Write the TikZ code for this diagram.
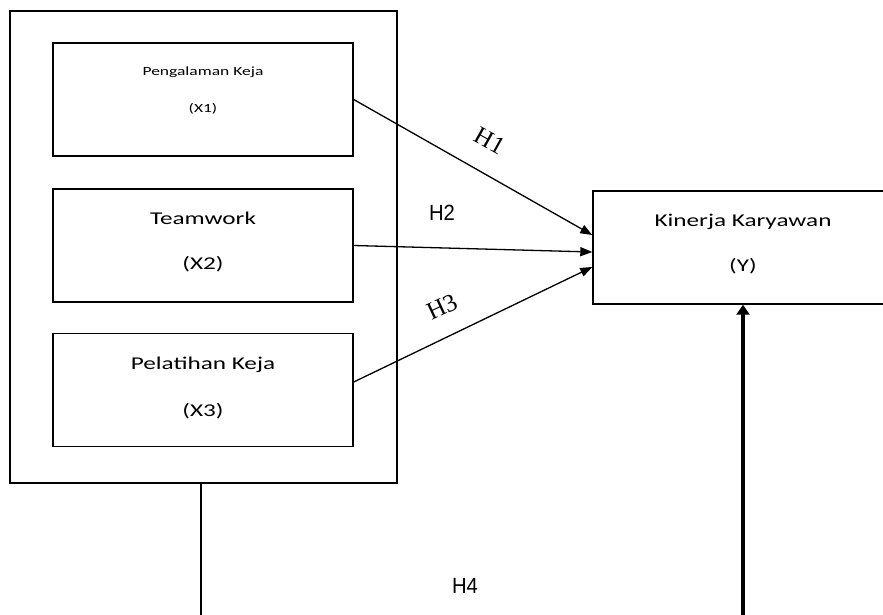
\documentclass[tikz,border=0pt]{standalone}
\usepackage{fontspec}
\setmainfont{Liberation Sans}
\newfontfamily\boxfont[FakeStretch=1.4]{Carlito}
\newfontfamily\hserif{Liberation Serif}
\usetikzlibrary{arrows.meta,calc}
\begin{document}
\begin{tikzpicture}[x=1pt,y=-1pt,
  box/.style={draw,line width=1.4pt,minimum width=300pt,minimum height=113pt,inner sep=0pt},
  big/.style={font=\boxfont\fontsize{18}{18}\selectfont,anchor=base,inner sep=0pt},
  small/.style={font=\boxfont\fontsize{12.5}{12.5}\selectfont,anchor=base,inner sep=0pt},
  link/.style={line width=1.3pt,-{Triangle[length=12pt,width=9pt]}},
  hsans/.style={font=\fontsize{22}{22}\selectfont,inner sep=0pt,xscale=0.92},
  hser/.style={font=\hserif\fontsize{25}{25}\selectfont,inner sep=0pt}]
\clip (0,0) rectangle (883,614);
\fill[white] (0,0) rectangle (883,614);
% boxes
\node[box,minimum width=387pt,minimum height=472pt] (outer) at (203.5,247) {};
\node[box] (x1) at (203,99.5) {};
\node[box] (x2) at (203,245.5) {};
\node[box] (x3) at (203,390) {};
\node[box] (y) at (743,247.5) {};
% texts
\node[small] (t1a) at (203,75) {Pengalaman Keja};
\node[small] (t1b) at (203,112) {(X1)};
\node[big] (t2a) at (203,224) {Teamwork};
\node[big] (t2b) at (203,269) {(X2)};
\node[big] (t3a) at (203,369) {Pelatihan Keja};
\node[big] (t3b) at (203,416) {(X3)};
\node[big] (tya) at (743,226) {Kinerja Karyawan};
\node[big] (tyb) at (743,271) {(Y)};
% connectors
\draw[link] (x1.east) -- ($(y.west)+(0,-12.5)$);
\draw[link] (x2.east) -- ($(y.west)+(0,4.5)$);
\draw[link] ($(x3.east)+(0,-8)$) -- ($(y.west)+(0,19.5)$);
% labels
\node[hser,rotate=-29] (h1) at (490,141) {H1};
\node[hsans] (h2) at (442,213) {H2};
\node[hser,rotate=25] (h3) at (442,307) {H3};
\node[hsans] (h4) at (465,586) {H4};
% bottom lines
\coordinate (b1) at (201,625);
\coordinate (b2) at (743,625);
\draw[line width=1.3pt] (outer.south -| b1) -- (b1);
\draw[line width=3.5pt,-{Triangle[length=10pt,width=13pt]}] (b2) -- (y.south);
\end{tikzpicture}
\end{document}
